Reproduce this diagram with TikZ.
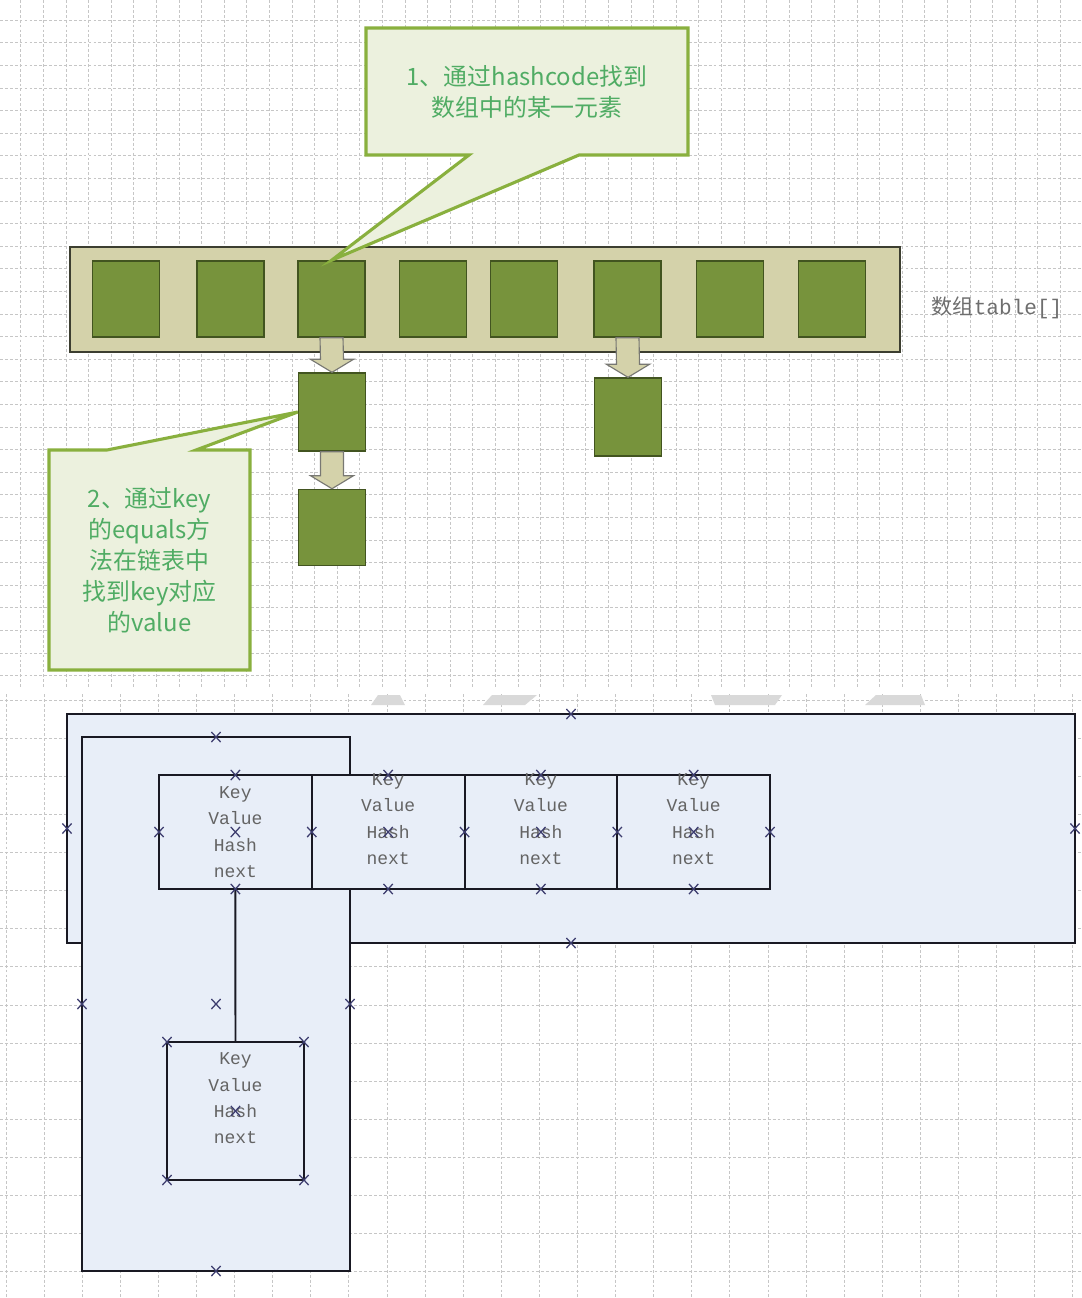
\documentclass[tikz,border=0pt]{standalone}
\usepackage{fontspec}
\setmainfont{Liberation Serif}
\newfontfamily\cjk{Noto Sans CJK SC}
\newfontfamily\monof{Liberation Mono}
\usetikzlibrary{calc, positioning}
\newlength\px
\setlength\px{0.025cm}
\definecolor{tan}{RGB}{212,210,170}
\definecolor{baredge}{RGB}{60,62,48}
\definecolor{slotgreen}{RGB}{119,147,60}
\definecolor{slotedge}{RGB}{66,84,32}
\definecolor{arrowedge}{RGB}{120,120,115}
\definecolor{bubblegreen}{RGB}{137,176,62}
\definecolor{bubblefill}{RGB}{236,241,222}
\definecolor{bubbletext}{RGB}{80,172,100}
\definecolor{labelgray}{RGB}{110,110,110}
\definecolor{panelblue}{RGB}{232,238,248}
\definecolor{paneledge}{RGB}{25,25,35}
\definecolor{fieldgray}{RGB}{100,100,100}
\definecolor{markblue}{RGB}{60,60,110}
\definecolor{wmgray}{RGB}{217,217,217}
\tikzstyle{gridline} = [draw=gray!45, line width=0.4pt, dash pattern=on 2pt off 1.5pt]
\tikzstyle{bar} = [rectangle, draw=baredge, fill=tan, line width=1pt, inner sep=0pt]
\tikzstyle{slot} = [rectangle, draw=slotedge, fill=slotgreen, line width=1pt, inner sep=0pt, minimum width=67\px, minimum height=76\px]
\tikzstyle{bubblebox} = [rectangle, inner sep=0pt, outer sep=0pt]
\tikzstyle{bubbleedge} = [draw=bubblegreen, fill=bubblefill, line width=2.2pt, line join=miter]
\tikzstyle{bubbletxt} = [align=center, text=bubbletext, inner sep=0pt, font=\cjk\fontsize{17}{22}\selectfont]
\tikzstyle{blockarrow} = [draw=arrowedge, fill=tan, line width=0.8pt]
\tikzstyle{panel} = [rectangle, draw=paneledge, fill=panelblue, line width=1.4pt, inner sep=0pt, outer sep=0pt]
\tikzstyle{entry} = [panel, minimum width=152.75\px, minimum height=114\px]
\tikzstyle{fields} = [align=center, text=fieldgray, inner sep=0pt, font=\monof\fontsize{12.8}{18.7}\selectfont]
\tikzstyle{link} = [draw=paneledge, line width=1.4pt]
\tikzstyle{markline} = [draw=markblue, line width=0.9pt]
\tikzset{xmark/.pic={\draw[markline] (-3.3pt,-3.6pt) -- (3.3pt,3.6pt) (-3.3pt,3.6pt) -- (3.3pt,-3.6pt);}}
\newcommand{\pushdown}[2]{%
  \path[blockarrow] ($(#1.south)+(-11.5,0)$) -- ($(#2.north)+(-11.5,-13)$)
    -- ($(#2.north)+(-21.5,-13)$) -- (#2.north) -- ($(#2.north)+(21.5,-13)$)
    -- ($(#2.north)+(11.5,-13)$) -- ($(#1.south)+(11.5,0)$) -- cycle;}

\begin{document}
\begin{tikzpicture}[x=0.025cm, y=-0.025cm]
\useasboundingbox (0,0) rectangle (1082,1298);
\fill[white] (0,0) rectangle (1082,1298);
% grids
\foreach \i in {0,...,46} \draw[gridline] ({20.6+22.6*\i},0) -- ({20.6+22.6*\i},688);
\foreach \j in {0,...,29} \draw[gridline] (0,{20+22.6*\j}) -- (1082,{20+22.6*\j});
\foreach \i in {0,...,28} \draw[gridline] ({5.8+38.1*\i},694) -- ({5.8+38.1*\i},1298);
\foreach \j in {0,...,15} \draw[gridline] (0,{700+38.1*\j}) -- (1082,{700+38.1*\j});
% watermark bits
\fill[wmgray] (378,695) -- (400,695) -- (405,705) -- (371,705) -- cycle;
\fill[wmgray] (492,695) -- (537,695) -- (525,705) -- (483,705) -- cycle;
\fill[wmgray] (711,695) -- (782,695) -- (775,705) -- (715,705) -- cycle;
\fill[wmgray] (876,695) -- (921,695) -- (925,705) -- (865,705) -- cycle;

% table and buckets
\node[bar, minimum width=830\px, minimum height=105\px] (table) at (485,299.5) {};
\foreach \x [count=\i] in {126,230.5,331.5,433,524,627.5,730,832}
  \node[slot] (c\i) at (\x,299) {};
\node[slot, minimum height=78\px] (n1) at (332,412) {};
\node[slot, below=37\px of n1] (n2) {};
\node[slot, minimum height=78\px] (n3) at (628,417) {};
\pushdown{c3}{n1}
\pushdown{c6}{n3}
\pushdown{n1}{n2}
\node[font=\monof\fontsize{15}{18}\selectfont, text=labelgray] (tablelbl) at (997,308) {{\cjk 数组}table[]};

% callouts
\node[bubblebox, minimum width=322\px, minimum height=127\px] (k1) at (527,91.5) {};
\path[bubbleedge] (k1.north west) -- (k1.north east) -- (k1.south east)
  -- ($(k1.south west)+(213,0)$) -- (c3.north) -- ($(k1.south west)+(103,0)$)
  -- (k1.south west) -- cycle;
\node[bubbletxt] (k1txt) at (k1.center) {1、通过hashcode找到\\数组中的某一元素};
\node[bubblebox, minimum width=201\px, minimum height=220\px] (k2) at (149.5,560) {};
\path[bubbleedge] (k2.north west) -- ($(k2.north west)+(58,0)$) -- (n1.west)
  -- ($(k2.north west)+(147,0)$) -- (k2.north east) -- (k2.south east)
  -- (k2.south west) -- cycle;
\node[bubbletxt] (k2txt) at (k2.center) {2、通过key\\的equals方\\法在链表中\\找到key对应\\的value};

% entry structure
\node[panel, minimum width=1008\px, minimum height=229\px] (hbox) at (571,828.5) {};
\node[panel, minimum width=268\px, minimum height=534\px] (vbox) at (216,1004) {};
\node[entry] (e1) at (235.4,832) {};
\node[entry, right=0pt of e1] (e2) {};
\node[entry, right=0pt of e2] (e3) {};
\node[entry, right=0pt of e3] (e4) {};
\node[entry, minimum width=137\px, minimum height=138\px] (f1) at (235.5,1111) {};
\path[link] (e1.south) -- (f1.north);
\node[fields] (t1) at (e1.center) {Key\\Value\\Hash\\next};
\foreach \i in {2,3,4}
  \node[fields] (t\i) at ($(e\i.center)+(0,-13)$) {Key\\Value\\Hash\\next};
\node[fields] (tf) at ($(f1.center)+(0,-12.5)$) {Key\\Value\\Hash\\next};

% connection points
\foreach \n in {e1,e2,e3,e4}
  \foreach \a in {north,south,west,center} \pic at (\n.\a) {xmark};
\pic at (e4.east) {xmark};
\foreach \a in {north,south,west,east} \pic at (hbox.\a) {xmark};
\foreach \a in {north,south,west,east,center} \pic at (vbox.\a) {xmark};
\foreach \a in {north west,north east,south west,south east,center} \pic at (f1.\a) {xmark};
\end{tikzpicture}
\end{document}
